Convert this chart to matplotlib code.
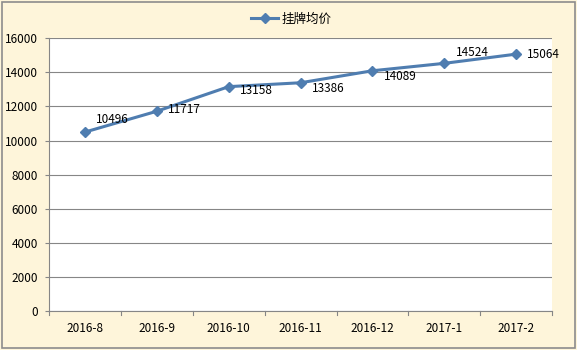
import matplotlib.pyplot as plt
from matplotlib.patches import Rectangle

plt.rcParams['font.family'] = ['Noto Sans CJK SC', 'DejaVu Sans']

months = ['2016-8', '2016-9', '2016-10', '2016-11', '2016-12', '2017-1', '2017-2']
prices = [10496, 11717, 13158, 13386, 14089, 14524, 15064]
# label offsets in points (dx, dy)
label_offsets = [(8, 9), (8, 1), (8, -3), (8, -4), (8, -4), (8, 8), (8, 0)]

line_color = '#4F7DB0'

fig = plt.figure(figsize=(5.77, 3.5), dpi=100)
fig.patch.set_facecolor('#FEF5DA')
fig.patches.append(Rectangle((0.004, 0.006), 0.992, 0.988, transform=fig.transFigure,
                             fill=False, edgecolor='#8C8C8C', linewidth=1.2))

ax = fig.add_axes([0.085, 0.111, 0.872, 0.780])
ax.set_facecolor('white')

x = range(len(months))
ax.plot(x, prices, color=line_color, linewidth=2.2, marker='D', markersize=5,
        label='挂牌均价')
for i, (v, (dx, dy)) in enumerate(zip(prices, label_offsets)):
    ax.annotate(str(v), (i, v), xytext=(dx, dy), textcoords='offset points',
                ha='left', va='center', fontsize=8.5, color='black')

ax.set_xlim(-0.5, len(months) - 0.5)
ax.set_ylim(0, 16000)
ax.set_yticks(range(0, 16001, 2000))
ax.set_xticks(list(x))
ax.set_xticklabels(months, fontsize=8.5)
ax.tick_params(axis='y', labelsize=8.5, length=3, color='#868686', pad=5)
ax.tick_params(axis='x', length=0, pad=8)
for b in [i - 0.5 for i in range(len(months) + 1)]:
    ax.plot([b, b], [0, -250], color='#868686', linewidth=0.8, clip_on=False)

ax.grid(axis='y', color='#868686', linewidth=0.8)
ax.set_axisbelow(True)
for s in ['top', 'right']:
    ax.spines[s].set_visible(False)
for s in ['left', 'bottom']:
    ax.spines[s].set_color('#868686')
    ax.spines[s].set_linewidth(0.8)

fig.legend(loc='center', bbox_to_anchor=(0.505, 0.945), frameon=False, fontsize=9,
           handlelength=2.2, handletextpad=0.3)

fig.savefig('out.png', dpi=100, facecolor=fig.get_facecolor())
